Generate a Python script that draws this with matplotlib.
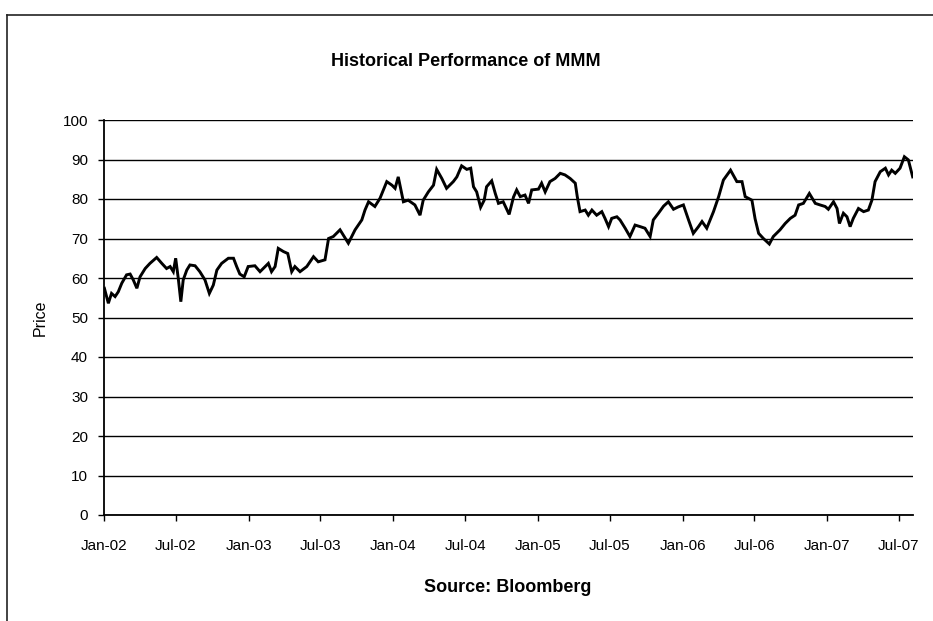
import matplotlib
matplotlib.use("Agg")
import matplotlib.pyplot as plt
import matplotlib.dates as mdates
from matplotlib.lines import Line2D
import pandas as pd

plt.rcParams['font.family'] = ['Liberation Sans', 'DejaVu Sans']

title = "Historical Performance of MMM"
source = "Source: Bloomberg"
ylabel = "Price"

dates = [
    "2002-01-02", "2002-01-12", "2002-01-20", "2002-01-29", "2002-02-06", "2002-02-15", "2002-02-27",
    "2002-03-08", "2002-03-16", "2002-03-25", "2002-04-02", "2002-04-15", "2002-04-27", "2002-05-14",
    "2002-05-27", "2002-06-08", "2002-06-17", "2002-06-25", "2002-07-01", "2002-07-08", "2002-07-14",
    "2002-07-20", "2002-07-29", "2002-08-06", "2002-08-19", "2002-08-31", "2002-09-13", "2002-09-24",
    "2002-10-04", "2002-10-13", "2002-10-25", "2002-11-11", "2002-11-24", "2002-12-02", "2002-12-10",
    "2002-12-21", "2002-12-31", "2003-01-17", "2003-01-30", "2003-02-07", "2003-02-20", "2003-02-28",
    "2003-03-09", "2003-03-17", "2003-03-30", "2003-04-10", "2003-04-20", "2003-04-28", "2003-05-11",
    "2003-05-28", "2003-06-14", "2003-06-26", "2003-07-13", "2003-07-22", "2003-08-03", "2003-08-20",
    "2003-09-10", "2003-09-27", "2003-10-14", "2003-10-22", "2003-10-31", "2003-11-16", "2003-11-29",
    "2003-12-16", "2003-12-29", "2004-01-06", "2004-01-14", "2004-01-27", "2004-02-08", "2004-02-25",
    "2004-03-09", "2004-03-17", "2004-03-30", "2004-04-12", "2004-04-20", "2004-05-03", "2004-05-15",
    "2004-06-01", "2004-06-10", "2004-06-22", "2004-07-05", "2004-07-15", "2004-07-22", "2004-07-30",
    "2004-08-09", "2004-08-18", "2004-08-24", "2004-09-06", "2004-09-15", "2004-09-23", "2004-10-05",
    "2004-10-20", "2004-10-31", "2004-11-08", "2004-11-17", "2004-11-29", "2004-12-08", "2004-12-16",
    "2005-01-02", "2005-01-10", "2005-01-19", "2005-01-31", "2005-02-13", "2005-02-26", "2005-03-10",
    "2005-03-23", "2005-04-05", "2005-04-10", "2005-04-17", "2005-04-30", "2005-05-08", "2005-05-17",
    "2005-05-29", "2005-06-11", "2005-06-19", "2005-06-28", "2005-07-06", "2005-07-19", "2005-07-27",
    "2005-08-09", "2005-08-21", "2005-09-03", "2005-09-16", "2005-09-28", "2005-10-11", "2005-10-19",
    "2005-11-01", "2005-11-14", "2005-11-26", "2005-12-09", "2005-12-21", "2006-01-03", "2006-01-16",
    "2006-01-28", "2006-02-10", "2006-02-19", "2006-03-03", "2006-03-20", "2006-04-02", "2006-04-14",
    "2006-05-02", "2006-05-18", "2006-05-31", "2006-06-08", "2006-06-25", "2006-07-03", "2006-07-12",
    "2006-07-24", "2006-08-08", "2006-08-18", "2006-09-04", "2006-09-17", "2006-09-30", "2006-10-12",
    "2006-10-21", "2006-11-02", "2006-11-17", "2006-12-02", "2006-12-14", "2006-12-27", "2007-01-04",
    "2007-01-17", "2007-01-26", "2007-02-01", "2007-02-11", "2007-02-20", "2007-02-28", "2007-03-08",
    "2007-03-21", "2007-04-03", "2007-04-15", "2007-04-24", "2007-05-02", "2007-05-15", "2007-05-28",
    "2007-06-05", "2007-06-13", "2007-06-22", "2007-07-04", "2007-07-15", "2007-07-25", "2007-08-05",
]

prices = [
    57.4, 53.6, 56.1, 55.3, 56.5, 58.7, 60.8,
    61.0, 59.5, 57.4, 60.3, 62.4, 63.7, 65.2,
    63.7, 62.4, 62.9, 61.6, 65.0, 59.5, 54.0,
    59.5, 62.0, 63.3, 63.1, 61.6, 59.5, 56.1,
    58.2, 62.0, 63.7, 65.0, 65.0, 62.9, 61.0,
    60.3, 62.9, 63.1, 61.6, 62.4, 63.7, 61.6,
    62.9, 67.5, 66.7, 66.2, 61.6, 62.9, 61.6,
    62.9, 65.4, 64.1, 64.6, 70.0, 70.5, 72.2,
    68.8, 72.2, 74.7, 77.2, 79.3, 78.1, 80.2,
    84.4, 83.5, 82.7, 85.6, 79.3, 79.7, 78.5,
    75.9, 79.7, 81.8, 83.5, 87.5, 85.2, 82.7,
    84.4, 85.6, 88.4, 87.5, 87.8, 83.1, 81.8,
    77.9, 79.7, 83.1, 84.6, 81.4, 78.9, 79.3,
    76.1, 80.5, 82.3, 80.6, 81.0, 78.9, 82.3,
    82.5, 84.0, 81.8, 84.4, 85.2, 86.5, 86.1,
    85.2, 84.0, 80.6, 76.8, 77.2, 75.9, 77.2,
    75.9, 76.8, 75.1, 73.0, 75.1, 75.5, 74.7,
    72.6, 70.5, 73.4, 73.0, 72.6, 70.5, 74.7,
    76.4, 78.2, 79.3, 77.4, 78.0, 78.5, 74.7,
    71.3, 73.0, 74.3, 72.6, 76.8, 80.6, 84.8,
    87.3, 84.4, 84.4, 80.6, 79.7, 75.0, 71.3,
    70.0, 68.6, 70.5, 72.2, 73.8, 75.1, 75.9,
    78.5, 78.9, 81.4, 78.9, 78.5, 78.1, 77.4,
    79.3, 77.6, 73.8, 76.4, 75.5, 73.0, 75.1,
    77.6, 76.8, 77.2, 79.7, 84.4, 86.9, 87.8,
    86.1, 87.3, 86.5, 87.8, 90.7, 89.9, 85.6,
]

y_ticks = [0, 10, 20, 30, 40, 50, 60, 70, 80, 90, 100]
x_start = "2002-01-01"
x_end = "2007-08-05"

W, H = 933, 621
fig = plt.figure(figsize=(W / 100, H / 100), dpi=100)
fig.patch.set_facecolor("white")

ax = fig.add_axes([104 / W, 1 - 515 / H, (912.7 - 104) / W, (515 - 120) / H])
ax.set_facecolor("white")

x = pd.to_datetime(dates)
ax.plot(x, prices, color="black", linewidth=2.1, solid_joinstyle="miter", zorder=3)

ax.set_xlim(pd.Timestamp(x_start), pd.Timestamp(x_end))
ax.set_ylim(0, 100)
ax.set_yticks(y_ticks)
ax.yaxis.grid(True, color="black", linewidth=1.0)
ax.set_axisbelow(True)

ax.xaxis.set_major_locator(mdates.MonthLocator(bymonth=[1, 7]))
ax.xaxis.set_major_formatter(mdates.DateFormatter("%b-%y"))

for s in ["top", "right"]:
    ax.spines[s].set_visible(False)
for s in ["left", "bottom"]:
    ax.spines[s].set_linewidth(1.3)
    ax.spines[s].set_color("black")
    ax.spines[s].set_zorder(4)

ax.tick_params(axis="both", direction="out", length=4.5, width=1.0, colors="black",
               labelsize=11)
ax.tick_params(axis="x", pad=13)
ax.tick_params(axis="y", pad=7)

fig.text(466 / W, 1 - 61 / H, title, ha="center", va="center", fontsize=13, fontweight="bold")
fig.text(508 / W, 1 - 587 / H, source, ha="center", va="center", fontsize=13, fontweight="bold")
fig.text(40 / W, 1 - 318 / H, ylabel, ha="center", va="center", rotation=90, fontsize=11.5)

# outer chart-area border (extends beyond right/bottom edges)
fig.add_artist(Line2D([7.5 / W, 7.5 / W], [0, 1 - 15 / H], transform=fig.transFigure,
                      color="#222222", linewidth=1.2))
fig.add_artist(Line2D([7.5 / W, 1.0], [1 - 15 / H, 1 - 15 / H], transform=fig.transFigure,
                      color="#222222", linewidth=1.2))

fig.savefig("out.png", dpi=100)
